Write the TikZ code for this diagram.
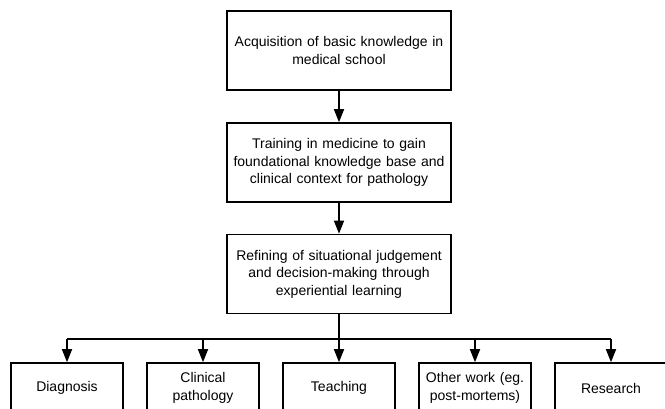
\documentclass[tikz,border=0pt]{standalone}
\usepackage{fontspec}
\setmainfont{Liberation Sans}
\usetikzlibrary{arrows.meta}
\begin{document}
\begin{tikzpicture}[x=1pt,y=-1pt,
  box/.style={draw=black,line width=1.6pt,fill=white,align=center,inner sep=0pt,
    font=\fontsize{14}{17.5}\selectfont},
  bigbox/.style={box,minimum width=224pt,minimum height=79pt,text width=215pt},
  smallbox/.style={box,minimum width=112pt,minimum height=50pt,text width=105pt},
  arr/.style={line width=1.6pt,-{Triangle[length=13pt,width=10pt]}}]
\useasboundingbox (0,0) rectangle (665,409);
\clip (0,0) rectangle (665,409);
\node[bigbox] (b1) at (339,50.5) {Acquisition of basic knowledge in\\medical school};
\node[bigbox] (b2) at (339,162.5) {Training in medicine to gain\\foundational knowledge base and\\clinical context for pathology};
\node[bigbox] (b3) at (339,274) {Refining of situational judgement\\and decision-making through\\experiential learning};
\node[smallbox] (d1) at (67,388) {Diagnosis};
\node[smallbox] (d2) at (203,388) {Clinical\\pathology};
\node[smallbox] (d3) at (339,388) {Teaching};
\node[smallbox] (d4) at (475,388) {Other work (eg.\\post-mortems)};
\node[smallbox] (d5) at (611,388) {Research};
\coordinate (j) at (339,339);
\draw[arr] (b1) -- (b2);
\draw[arr] (b2) -- (b3);
\draw[line width=1.6pt] (b3.south) -- (j);
\draw[line width=1.6pt] (d1.north |- j) -- (d5.north |- j);
\draw[arr] (d1.north |- j) -- (d1.north);
\draw[arr] (d2.north |- j) -- (d2.north);
\draw[arr] (j) -- (d3.north);
\draw[arr] (d4.north |- j) -- (d4.north);
\draw[arr] (d5.north |- j) -- (d5.north);
\end{tikzpicture}
\end{document}
